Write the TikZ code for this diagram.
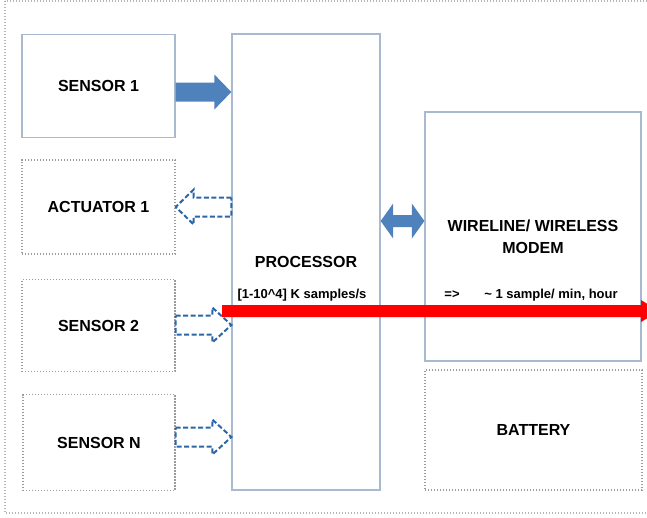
\documentclass[tikz,border=0pt]{standalone}
\usepackage{fontspec}
\setmainfont{Liberation Sans}
\usetikzlibrary{calc}

\definecolor{boxline}{HTML}{A8B9D0}
\definecolor{dotline}{HTML}{9C9C9C}
\definecolor{frameline}{HTML}{B4B4B4}
\definecolor{arrowblue}{HTML}{4F81BD}
\definecolor{dashblue}{HTML}{2A66A8}
\definecolor{flowred}{HTML}{FF0000}

% single-headed block arrow: style, from, to, shaft half-width, head half-width, head length
\newcommand\blockarrow[6]{%
  \path[#1] let \p1=#2, \p2=#3, \n1={sign(\x2-\x1)}, \n2={\x2-\n1*#6} in
    (\x1,{\y1+#4}) -- (\n2,{\y1+#4}) -- (\n2,{\y1+#5}) -- (\x2,\y1)
    -- (\n2,{\y1-#5}) -- (\n2,{\y1-#4}) -- (\x1,{\y1-#4}) -- cycle;}

% double-headed block arrow: style, from, to, shaft half-width, head half-width, head length
\newcommand\twowayarrow[6]{%
  \path[#1] let \p1=#2, \p2=#3, \n1={\x1+#6}, \n2={\x2-#6} in
    (\x1,\y1) -- (\n1,{\y1+#5}) -- (\n1,{\y1+#4}) -- (\n2,{\y1+#4}) -- (\n2,{\y1+#5})
    -- (\x2,\y1) -- (\n2,{\y1-#5}) -- (\n2,{\y1-#4}) -- (\n1,{\y1-#4}) -- (\n1,{\y1-#5}) -- cycle;}

\tikzset{
  label font/.style={font=\bfseries\fontsize{16}{22}\selectfont, text=black, align=center},
  small font/.style={font=\bfseries\fontsize{13}{16}\selectfont, text=black},
  solidbox/.style={draw=boxline, line width=1.3pt, fill=white, label font, inner sep=0pt},
  dotbox/.style={draw=dotline, line width=1.4pt, dash pattern=on 1.4pt off 1.6pt, fill=white, label font, inner sep=0pt},
  frame/.style={draw=frameline, line width=1.3pt, dash pattern=on 1.3pt off 1.7pt},
  solidarrow/.style={fill=arrowblue},
  hollowarrow/.style={draw=dashblue, line width=2pt, dash pattern=on 5pt off 2.5pt, fill=white},
  flowarrow/.style={fill=flowred},
}

\begin{document}
\begin{tikzpicture}[x=1pt, y=-1pt]
  \useasboundingbox (0,0) rectangle (647,517);
  \clip (0,0) rectangle (647,517);

  % outer enclosure
  \draw[frame] (5,1) rectangle (660,513);

  % blocks
  \node[solidbox, minimum width=153pt, minimum height=103pt] (s1)   at (98.5,86)  {SENSOR 1};
  \node[dotbox,   minimum width=153pt, minimum height=94pt]  (act)  at (98.5,207) {ACTUATOR 1};
  \node[dotbox,   minimum width=153pt, minimum height=92pt]  (s2)   at (98.5,325.5) {SENSOR 2};
  \node[dotbox,   minimum width=152pt, minimum height=96pt]  (sn)   at (99,442.5) {SENSOR N};
  \node[solidbox, minimum width=148pt, minimum height=456pt] (proc) at (306,262) {PROCESSOR};
  \node[solidbox, minimum width=216pt, minimum height=249pt] (modem) at (533,236.5) {WIRELINE/ WIRELESS\\MODEM};
  \node[dotbox,   minimum width=217pt, minimum height=120pt] (bat)  at (533.5,430) {BATTERY};

  % rate annotations
  \node[small font, inner sep=0pt] (rate)  at (302,295) {[1-10\textasciicircum 4] K samples/s};
  \node[small font, inner sep=0pt] (imp)   at (452,295) {=>};
  \node[small font, inner sep=0pt] (slow)  at (551,295) {\textasciitilde\ 1 sample/ min, hour};

  % arrow rows
  \coordinate (r1) at (0,92);
  \coordinate (r2) at (0,207);
  \coordinate (r3) at (0,325);
  \coordinate (r4) at (0,437);
  \coordinate (rm) at (0,221);
  \coordinate (redstart) at (222,311);
  \coordinate (redend)   at (659,311);

  % sensor / actuator links
  \blockarrow{solidarrow}{(s1.east |- r1)}{(proc.west |- r1)}{9.5pt}{17.5pt}{17pt}
  \blockarrow{hollowarrow}{(proc.west |- r2)}{(act.east |- r2)}{9.5pt}{17.5pt}{18pt}
  \blockarrow{hollowarrow}{(s2.east |- r3)}{(proc.west |- r3)}{9.5pt}{17.5pt}{19pt}
  \blockarrow{hollowarrow}{(sn.east |- r4)}{(proc.west |- r4)}{9.5pt}{17.5pt}{19pt}

  % processor <-> modem
  \twowayarrow{solidarrow}{(proc.east |- rm)}{(modem.west |- rm)}{6pt}{17.5pt}{12.5pt}

  % data flow
  \blockarrow{flowarrow}{(redstart)}{(redend)}{6pt}{11pt}{18pt}
\end{tikzpicture}
\end{document}
